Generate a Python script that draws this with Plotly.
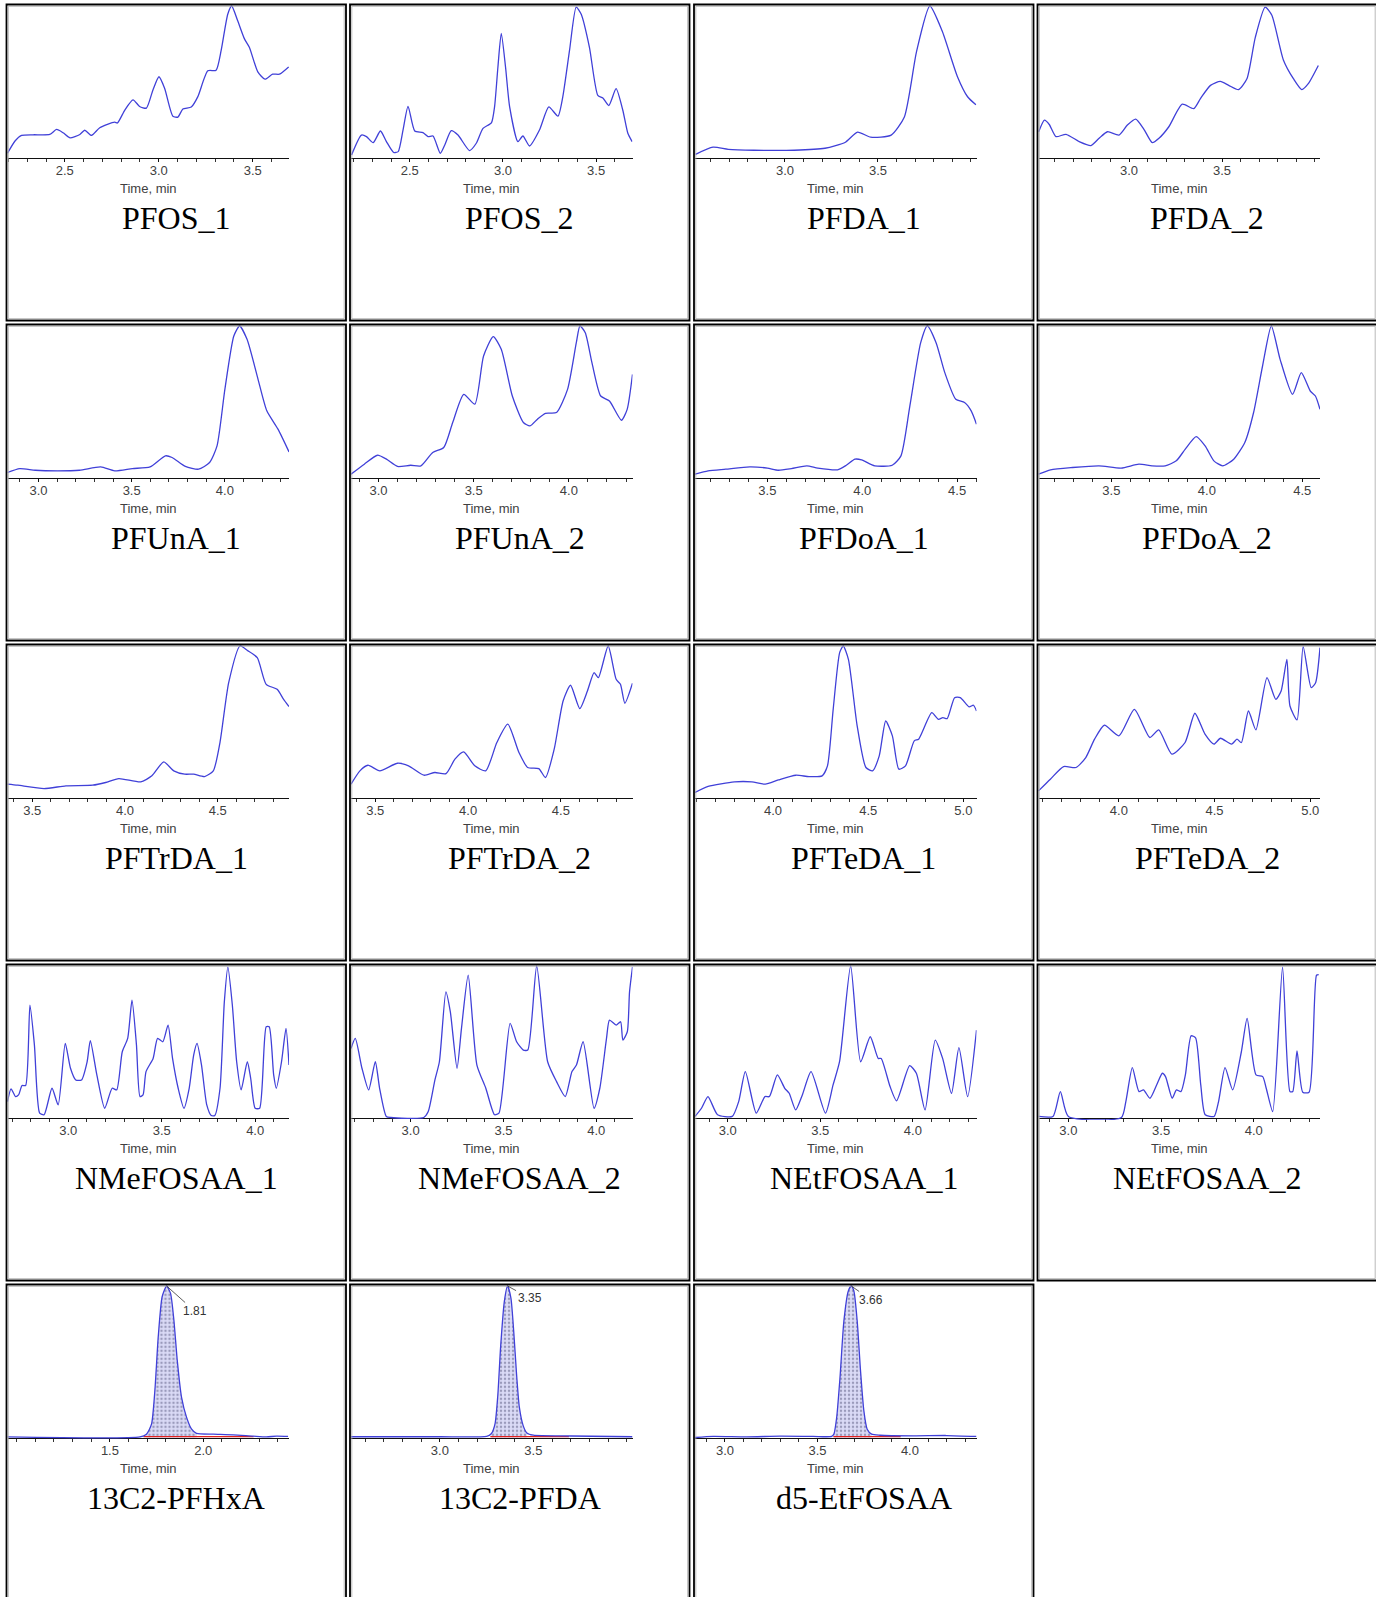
import plotly.graph_objects as go

# ------------------------------------------------------------------ data
captions = ["PFOS_1", "PFOS_2", "PFDA_1", "PFDA_2",
            "PFUnA_1", "PFUnA_2", "PFDoA_1", "PFDoA_2",
            "PFTrDA_1", "PFTrDA_2", "PFTeDA_1", "PFTeDA_2",
            "NMeFOSAA_1", "NMeFOSAA_2", "NEtFOSAA_1", "NEtFOSAA_2",
            "13C2-PFHxA", "13C2-PFDA", "d5-EtFOSAA"]

# visible time window of each panel (min)
x_ranges = [[2.195, 3.693], [2.185, 3.695], [2.516, 4.03], [2.513, 4.027],
            [2.834, 4.344], [2.856, 4.334], [3.119, 4.602], [3.118, 4.593],
            [3.367, 4.884], [3.369, 4.886], [3.59, 5.069], [3.58, 5.051],
            [2.675, 4.181], [2.679, 4.195], [2.823, 4.344], [2.839, 4.357],
            [0.951, 2.46], [2.525, 4.03], [2.838, 4.36]]

# labelled ticks of each panel
tick_labels = [["2.5", "3.0", "3.5"], ["2.5", "3.0", "3.5"], ["3.0", "3.5"], ["3.0", "3.5"],
               ["3.0", "3.5", "4.0"], ["3.0", "3.5", "4.0"], ["3.5", "4.0", "4.5"], ["3.5", "4.0", "4.5"],
               ["3.5", "4.0", "4.5"], ["3.5", "4.0", "4.5"], ["4.0", "4.5", "5.0"], ["4.0", "4.5", "5.0"],
               ["3.0", "3.5", "4.0"], ["3.0", "3.5", "4.0"], ["3.0", "3.5", "4.0"], ["3.0", "3.5", "4.0"],
               ["1.5", "2.0"], ["3.0", "3.5"], ["3.0", "3.5", "4.0"]]

axis_title = "Time, min"

# intensity in % of panel height
PFOS_1_t = [2.195, 2.235, 2.27, 2.332, 2.42, 2.456, 2.491, 2.527, 2.58, 2.606, 2.642, 2.686, 2.765, 2.78, 2.82, 2.863, 2.898, 2.934, 2.969, 3.001, 3.031, 3.075, 3.102, 3.128, 3.173, 3.208, 3.261, 3.305, 3.332, 3.367, 3.388, 3.42, 3.456, 3.482, 3.527, 3.565, 3.606, 3.642, 3.691]
PFOS_1_y = [2.8, 10.9, 14.6, 15, 15.2, 18.5, 16.3, 13, 15.2, 18, 14.6, 19.6, 23.3, 22.8, 31.5, 38, 33.7, 32.6, 44.6, 53.3, 45.7, 27.2, 26.7, 32, 33.3, 40.2, 57.2, 57.6, 70.7, 94.6, 100, 90.2, 78.3, 72.8, 56.5, 51.7, 55, 55, 59.8]

PFOS_2_t = [2.188, 2.241, 2.268, 2.304, 2.343, 2.375, 2.414, 2.438, 2.464, 2.491, 2.527, 2.571, 2.598, 2.625, 2.664, 2.688, 2.723, 2.759, 2.821, 2.857, 2.893, 2.938, 2.955, 2.973, 2.991, 3.014, 3.036, 3.08, 3.107, 3.143, 3.196, 3.246, 3.295, 3.321, 3.357, 3.393, 3.42, 3.464, 3.509, 3.536, 3.568, 3.607, 3.643, 3.67, 3.693]
PFOS_2_y = [1.7, 14.8, 13.8, 9.8, 17.5, 10.5, 3.3, 3.9, 18.1, 33.8, 17.5, 16.4, 13.8, 14.2, 2.8, 8.3, 17.7, 14.8, 4.6, 9.4, 19.2, 22.9, 33.4, 59.6, 81.9, 59.6, 33.4, 10.5, 14.2, 7.6, 18.1, 33.4, 27.3, 40, 70.5, 99.3, 94.5, 72.7, 41, 39.3, 34.3, 45.4, 31.2, 16, 10.5]

PFDA_1_t = [2.519, 2.613, 2.695, 2.832, 3.05, 3.215, 3.325, 3.39, 3.461, 3.571, 3.642, 3.708, 3.779, 3.845, 3.927, 3.982, 4.027]
PFDA_1_y = [2.1, 6.8, 5.4, 4.8, 4.8, 6.1, 10.1, 16.8, 13.4, 14.8, 26.8, 70.2, 100, 83.6, 53.5, 40.1, 34.8]

PFDA_2_t = [2.514, 2.545, 2.571, 2.607, 2.661, 2.732, 2.795, 2.839, 2.884, 2.946, 2.991, 3.036, 3.08, 3.125, 3.161, 3.214, 3.286, 3.348, 3.384, 3.438, 3.491, 3.536, 3.589, 3.634, 3.679, 3.732, 3.768, 3.83, 3.884, 3.929, 3.964, 4.018]
PFDA_2_y = [17, 24.7, 21.8, 13.8, 15.3, 10.5, 7.9, 12.7, 17, 14.8, 21.4, 25.3, 18.6, 9.8, 12.7, 20.3, 35.2, 32.3, 38.9, 47.6, 50.2, 47.6, 44.8, 52, 79.3, 99.3, 93.9, 64.4, 52, 44.8, 48.7, 60.7]

PFUnA_1_t = [2.834, 2.90, 2.983, 3.102, 3.22, 3.334, 3.409, 3.504, 3.599, 3.681, 3.717, 3.788, 3.859, 3.918, 3.958, 4.0, 4.048, 4.079, 4.119, 4.178, 4.225, 4.285, 4.344]
PFUnA_1_y = [3.3, 5.9, 4.8, 4.4, 4.8, 7, 4.4, 5.9, 7, 14.3, 13.2, 7.3, 5.5, 9.9, 20.9, 58.2, 93.4, 100, 91.2, 64.8, 44, 31.9, 16.9]

PFUnA_2_t = [2.856, 2.926, 2.995, 3.042, 3.1, 3.169, 3.223, 3.285, 3.343, 3.39, 3.448, 3.506, 3.552, 3.603, 3.645, 3.703, 3.761, 3.796, 3.835, 3.877, 3.935, 3.993, 4.039, 4.058, 4.086, 4.121, 4.167, 4.213, 4.276, 4.306, 4.334]
PFUnA_2_y = [2.2, 8.8, 14.7, 12.1, 7.3, 8.1, 7.7, 16.5, 19.8, 36.3, 54.9, 48.4, 80.2, 93, 84.6, 53.8, 36.3, 34.1, 38.5, 42.4, 42.9, 58.2, 89, 100, 95.6, 75.8, 53.8, 50.5, 37.8, 45, 68.1]

PFDoA_1_t = [3.119, 3.188, 3.281, 3.408, 3.5, 3.558, 3.627, 3.708, 3.766, 3.87, 3.916, 3.962, 3.997, 4.066, 4.158, 4.204, 4.251, 4.308, 4.343, 4.389, 4.435, 4.493, 4.539, 4.574, 4.602]
PFDoA_1_y = [2.2, 4.4, 5.5, 7, 6.2, 4.8, 5.9, 7.7, 6.2, 5.1, 8.1, 12.1, 11.6, 7.7, 8.1, 14.3, 47.3, 89, 100, 89, 69.2, 51.6, 49.5, 44, 35.2]

PFDoA_2_t = [3.118, 3.181, 3.296, 3.435, 3.551, 3.644, 3.713, 3.782, 3.84, 3.887, 3.944, 3.991, 4.037, 4.083, 4.141, 4.199, 4.245, 4.292, 4.338, 4.384, 4.449, 4.495, 4.542, 4.569, 4.593]
PFDoA_2_y = [2.2, 5.1, 6.6, 7.7, 6.2, 8.8, 7.7, 7.7, 11, 18.7, 27, 20.9, 11, 7.7, 12.1, 23.1, 42.9, 73.6, 100, 78, 54.9, 69.2, 57.1, 53.8, 45]

PFTrDA_1_t = [3.367, 3.422, 3.564, 3.682, 3.825, 3.896, 3.967, 4.085, 4.145, 4.209, 4.263, 4.322, 4.37, 4.429, 4.476, 4.512, 4.559, 4.62, 4.66, 4.713, 4.761, 4.82, 4.855, 4.884]
PFTrDA_1_y = [8.8, 8.1, 5.9, 7.7, 8.1, 9.9, 12.5, 10.3, 14.3, 23.5, 17.6, 15.4, 15.4, 13.8, 17.6, 36.3, 75.8, 100, 97, 92.3, 74.7, 71.4, 64.8, 60]

PFTrDA_2_t = [3.369, 3.417, 3.46, 3.524, 3.619, 3.679, 3.762, 3.821, 3.881, 3.929, 3.976, 4.036, 4.095, 4.155, 4.214, 4.274, 4.321, 4.381, 4.417, 4.464, 4.512, 4.552, 4.602, 4.643, 4.679, 4.702, 4.755, 4.798, 4.821, 4.845, 4.886]
PFTrDA_2_y = [8.8, 17.6, 21.3, 17.6, 22.6, 20.9, 14.7, 16.5, 15.8, 25.3, 30.1, 20.9, 17.6, 36.3, 48.4, 29.7, 19.8, 19.1, 13.2, 31.9, 63.7, 74.1, 58.7, 70.3, 82.4, 79.1, 100, 78, 74.7, 62.2, 75.4]

PFTeDA_1_t = [3.59, 3.659, 3.797, 3.889, 3.959, 4.028, 4.12, 4.189, 4.258, 4.286, 4.316, 4.35, 4.369, 4.396, 4.442, 4.488, 4.523, 4.558, 4.592, 4.627, 4.661, 4.696, 4.742, 4.765, 4.834, 4.869, 4.892, 4.915, 4.954, 4.984, 5.03, 5.053, 5.069]
PFTeDA_1_y = [3.3, 7.3, 10.3, 10.3, 8.8, 11.6, 14.7, 13.8, 14.3, 20.9, 58.2, 95.6, 100, 91.2, 47.3, 19.8, 17.6, 27.5, 50.5, 40.7, 18.7, 20.9, 37.4, 38.5, 56, 51.6, 52.7, 52.1, 65.9, 65.9, 59.8, 60.9, 57.1]

PFTeDA_2_t = [3.58, 3.642, 3.711, 3.776, 3.827, 3.873, 3.924, 4.0, 4.081, 4.162, 4.208, 4.277, 4.346, 4.397, 4.45, 4.497, 4.531, 4.589, 4.617, 4.64, 4.677, 4.716, 4.774, 4.82, 4.848, 4.878, 4.894, 4.931, 4.963, 5.005, 5.028, 5.051]
PFTeDA_2_y = [4.4, 12.1, 20.4, 19.8, 26.4, 38.5, 47.7, 40.7, 58.2, 39.6, 44.6, 28.6, 36.3, 55.6, 41.8, 35.2, 39.1, 35.2, 38.5, 36.3, 57.1, 44.6, 79.1, 64.8, 70.3, 91.2, 60.4, 51.2, 99.6, 72.5, 75.8, 98.9]

NMeFOSAA_1_t = [2.675, 2.694, 2.718, 2.734, 2.753, 2.772, 2.795, 2.819, 2.847, 2.871, 2.913, 2.946, 2.984, 3.012, 3.04, 3.071, 3.101, 3.118, 3.153, 3.195, 3.235, 3.259, 3.289, 3.318, 3.341, 3.365, 3.384, 3.4, 3.416, 3.454, 3.478, 3.506, 3.534, 3.558, 3.588, 3.619, 3.647, 3.671, 3.689, 3.713, 3.741, 3.765, 3.784, 3.812, 3.835, 3.854, 3.878, 3.901, 3.925, 3.958, 3.976, 4.0, 4.024, 4.059, 4.075, 4.099, 4.113, 4.141, 4.165, 4.181]
NMeFOSAA_1_y = [10.5, 18.9, 13.8, 14.9, 21.1, 21.1, 74.1, 47.8, 2.9, 1.8, 19.3, 8.3, 48.9, 32.5, 24.8, 24.8, 36.8, 50.7, 28.1, 6.1, 19.3, 18.2, 43.4, 52.2, 77.4, 47.8, 13.8, 14.9, 30.3, 39, 52.2, 50, 61, 39, 19.3, 6.1, 19.3, 41.2, 48.9, 34.6, 8.3, 1.3, 1.3, 19.3, 76.3, 99.3, 74.1, 36.8, 18.2, 36.8, 25.9, 6.1, 6.1, 59.9, 59.9, 28.1, 19.3, 36.8, 58.8, 34.6]

NMeFOSAA_2_t = [2.679, 2.702, 2.738, 2.774, 2.81, 2.833, 2.869, 2.893, 3.071, 3.095, 3.131, 3.155, 3.19, 3.214, 3.25, 3.274, 3.31, 3.357, 3.405, 3.452, 3.476, 3.536, 3.571, 3.607, 3.631, 3.679, 3.738, 3.786, 3.833, 3.869, 3.893, 3.929, 3.988, 4.019, 4.055, 4.071, 4.107, 4.131, 4.143, 4.167, 4.179, 4.195]
NMeFOSAA_2_y = [45.6, 52.2, 32.5, 18.2, 36.8, 19.3, 0.7, 0, 0, 3.9, 24.8, 36.8, 82.9, 69.7, 32.5, 58.8, 93.9, 34.6, 19.3, 1.8, 2.9, 62.1, 50, 44.5, 44.5, 100, 36.8, 23.7, 13.8, 30.3, 34.6, 50, 6.1, 19.3, 52.2, 64.3, 61, 63.2, 51.1, 56.6, 82.9, 99.3]

NEtFOSAA_1_t = [2.823, 2.858, 2.893, 2.945, 3.024, 3.059, 3.095, 3.154, 3.201, 3.225, 3.268, 3.308, 3.332, 3.367, 3.403, 3.45, 3.528, 3.569, 3.604, 3.664, 3.718, 3.77, 3.813, 3.829, 3.877, 3.912, 3.983, 4.019, 4.066, 4.121, 4.161, 4.209, 4.249, 4.296, 4.344]
NEtFOSAA_1_y = [0.7, 6.1, 13.8, 1.8, 0.7, 10.5, 30.3, 2.9, 13.8, 13.8, 28.1, 19.3, 16, 5, 14.9, 30.3, 2.9, 21.5, 36.8, 100, 36.8, 53.3, 39, 39, 20.4, 11, 34.2, 29.2, 5, 51.1, 39, 16, 46.1, 13.8, 57.7]

NEtFOSAA_2_t = [2.84, 2.917, 2.957, 3.0, 3.286, 3.31, 3.345, 3.381, 3.405, 3.44, 3.476, 3.507, 3.524, 3.56, 3.583, 3.607, 3.631, 3.662, 3.686, 3.714, 3.738, 3.786, 3.81, 3.845, 3.886, 3.933, 3.964, 4.012, 4.048, 4.067, 4.102, 4.155, 4.195, 4.21, 4.233, 4.264, 4.298, 4.338, 4.35]
NEtFOSAA_2_y = [0.7, 0.7, 17.1, 0.7, 0, 10.5, 32.9, 17.1, 18.2, 12.7, 21.5, 29.2, 27, 12.7, 18.2, 17.1, 28.1, 53.9, 52.6, 21.5, 1.8, 0.7, 10.5, 32.9, 18.2, 43.4, 65.4, 28.1, 27, 19.3, 3.9, 99.3, 17.1, 17.1, 43.9, 16.7, 16.7, 93.9, 94.3]

PFHxA_13C2_t = [0.951, 1.661, 1.696, 1.723, 1.741, 1.759, 1.78, 1.804, 1.825, 1.843, 1.861, 1.884, 1.911, 1.938, 1.964, 2.054, 2.161, 2.268, 2.339, 2.393, 2.455]
PFHxA_13C2_y = [0.4, 0.4, 2.2, 8.8, 31, 66.4, 92.9, 100, 95.1, 77.4, 50.9, 26.5, 13.3, 5.5, 2.7, 2.2, 1.8, 0.9, 0.4, 0.9, 0.7]

PFDA_13C2_t = [2.525, 3.0, 3.25, 3.275, 3.295, 3.31, 3.325, 3.345, 3.362, 3.38, 3.395, 3.41, 3.425, 3.445, 3.465, 3.5, 3.7, 4.03]
PFDA_13C2_y = [0.5, 0.5, 0.8, 2.5, 9, 28, 60, 90, 100, 92, 70, 42, 20, 8, 3, 1.5, 1, 0.5]

EtFOSAA_d5_t = [2.838, 2.937, 3.117, 3.297, 3.477, 3.577, 3.589, 3.604, 3.622, 3.643, 3.667, 3.683, 3.697, 3.715, 3.733, 3.751, 3.769, 3.793, 3.838, 4.018, 4.198, 4.36]
EtFOSAA_d5_y = [0, 0.7, 0.4, 0.9, 0.7, 0.7, 2.2, 13.2, 39.6, 76.9, 96.7, 100, 96.7, 76.9, 44, 17.6, 5.5, 2.2, 1.5, 1.1, 1.3, 0.7]

# internal standards: retention-time labels, integrated window, baseline window
is_rt_labels = ["1.81", "3.35", "3.66"]
is_fill_windows = [[1.68, 1.97], [3.27, 3.47], [3.586, 3.80]]
is_baseline_windows = [[1.68, 2.27], [3.27, 3.69], [3.586, 3.95]]

series = [(PFOS_1_t, PFOS_1_y), (PFOS_2_t, PFOS_2_y), (PFDA_1_t, PFDA_1_y), (PFDA_2_t, PFDA_2_y),
          (PFUnA_1_t, PFUnA_1_y), (PFUnA_2_t, PFUnA_2_y), (PFDoA_1_t, PFDoA_1_y), (PFDoA_2_t, PFDoA_2_y),
          (PFTrDA_1_t, PFTrDA_1_y), (PFTrDA_2_t, PFTrDA_2_y), (PFTeDA_1_t, PFTeDA_1_y), (PFTeDA_2_t, PFTeDA_2_y),
          (NMeFOSAA_1_t, NMeFOSAA_1_y), (NMeFOSAA_2_t, NMeFOSAA_2_y), (NEtFOSAA_1_t, NEtFOSAA_1_y), (NEtFOSAA_2_t, NEtFOSAA_2_y),
          (PFHxA_13C2_t, PFHxA_13C2_y), (PFDA_13C2_t, PFDA_13C2_y), (EtFOSAA_d5_t, EtFOSAA_d5_y)]

# ------------------------------------------------------------------ layout geometry (pixels)
W, H = 1376, 1597
COL_LEFT = [6.5, 350.0, 694.0, 1037.5]
ROW_TOP = [4.5, 324.5, 644.5, 964.5, 1284.5]
CELL_W, CELL_H = 339.5, 316
AX_L, AX_R = 1.0, 282.5        # axis span inside cell
AX_Y = 153.0                   # axis line below cell top
TOP_Y = 1.5                    # 100 % level below cell top
YLO, YHI = -1.6, 100.8
BLUE = "#4040d8"
SANS = "Liberation Sans, Arial, sans-serif"


def px(x):
    return x / W


def py(y):
    return 1 - y / H


fig = go.Figure()
layout = dict(width=W, height=H, margin=dict(l=0, r=0, t=0, b=0),
              paper_bgcolor="white", plot_bgcolor="rgba(0,0,0,0)",
              showlegend=False, shapes=[], annotations=[])

for i, (t, y) in enumerate(series):
    r, c = divmod(i, 4)
    L, T = COL_LEFT[c], ROW_TOP[r]
    k = i + 1
    xa = "x" if k == 1 else f"x{k}"
    ya = "y" if k == 1 else f"y{k}"
    xname = "xaxis" if k == 1 else f"xaxis{k}"
    yname = "yaxis" if k == 1 else f"yaxis{k}"

    ppu = (AX_Y - TOP_Y) / 100.0
    dom_bot = T + AX_Y - YLO * ppu
    dom_top = T + AX_Y - YHI * ppu

    if i >= 16:
        j = i - 16
        fa, fb = is_fill_windows[j]
        ft = [a for a in t if fa <= a <= fb]
        fy = [b for a, b in zip(t, y) if fa <= a <= fb]
        fig.add_trace(go.Scatter(x=ft, y=fy, mode="lines", xaxis=xa, yaxis=ya,
                                 line=dict(width=0, shape="spline", smoothing=0.6),
                                 fill="tozeroy", fillcolor="#dadaf6",
                                 fillpattern=dict(shape=".", fgcolor="#5a5a80", bgcolor="#dadaf6",
                                                  size=4, solidity=0.3),
                                 hoverinfo="skip"))
        ba, bb = is_baseline_windows[j]
        fig.add_trace(go.Scatter(x=[ba, bb], y=[0.6, 0.6], mode="lines", xaxis=xa, yaxis=ya,
                                 line=dict(color="#e02020", width=1.3), hoverinfo="skip"))

    fig.add_trace(go.Scatter(x=t, y=y, mode="lines", xaxis=xa, yaxis=ya,
                             line=dict(color=BLUE, width=1.3, shape="spline", smoothing=0.6),
                             hoverinfo="skip"))

    labs = tick_labels[i]
    layout[xname] = dict(domain=[px(L + AX_L), px(L + AX_R)], range=x_ranges[i],
                         anchor="free", position=py(T + AX_Y),
                         showline=True, linecolor="#111", linewidth=1,
                         ticks="outside", ticklen=3, tickwidth=1, tickcolor="#111",
                         tickmode="array", tickvals=[float(s) for s in labs], ticktext=labs,
                         ticklabelstandoff=-2,
                         tickfont=dict(family=SANS, size=13, color="#404040"),
                         minor=dict(ticks="outside", ticklen=3, tickwidth=1, tickcolor="#333",
                                    tickmode="linear", tick0=0, dtick=0.1, showgrid=False),
                         showgrid=False, zeroline=False, layer="below traces", fixedrange=True)
    layout[yname] = dict(domain=[py(dom_bot), py(dom_top)], range=[YLO, YHI], anchor=xa,
                         visible=False, fixedrange=True)

    layout["annotations"].append(dict(
        text=axis_title, xref="paper", yref="paper",
        x=px(L + (AX_L + AX_R) / 2), y=py(T + 184), xanchor="center", yanchor="middle",
        showarrow=False, font=dict(family=SANS, size=13, color="#404040")))
    layout["annotations"].append(dict(
        text=captions[i], xref="paper", yref="paper",
        x=px(L + CELL_W / 2), y=py(T + 213.5), xanchor="center", yanchor="middle",
        showarrow=False, font=dict(family="Liberation Serif, Times New Roman, serif", size=32, color="black")))
    if i >= 16:
        j = i - 16
        imax = max(range(len(y)), key=lambda q: y[q])
        offs = [(28, 25), (22, 12), (20, 14)][j]
        layout["annotations"].append(dict(
            text=is_rt_labels[j], xref=xa, yref=ya, x=t[imax], y=y[imax],
            showarrow=True, arrowhead=0, arrowwidth=0.8, arrowcolor="#333", standoff=0,
            ax=offs[0], ay=offs[1],
            font=dict(family=SANS, size=12, color="#333")))

    # cell border: black outer line with a thin grey inner line
    layout["shapes"].append(dict(type="rect", xref="paper", yref="paper",
                                 x0=px(L), x1=px(L + CELL_W), y0=py(T + CELL_H), y1=py(T),
                                 line=dict(color="black", width=1.8)))
    layout["shapes"].append(dict(type="rect", xref="paper", yref="paper",
                                 x0=px(L + 1.8), x1=px(L + CELL_W - 1.8), y0=py(T + CELL_H - 1.8), y1=py(T + 1.8),
                                 line=dict(color="#a8a8a8", width=0.8)))

fig.update_layout(**layout)
fig.write_html("out.html", config={"displayModeBar": False},
               post_script="document.body.style.margin='0px';")
